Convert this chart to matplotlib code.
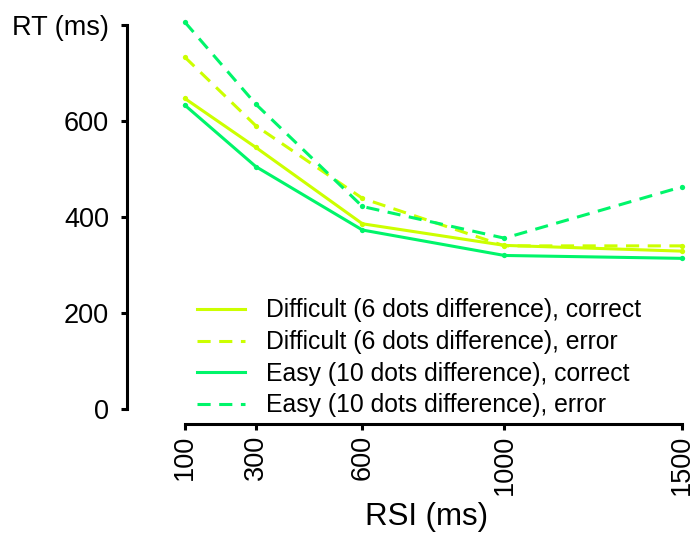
import matplotlib
matplotlib.use("Agg")
import matplotlib.pyplot as plt

plt.rcParams['font.family'] = ['Liberation Sans', 'DejaVu Sans']

rsi = [100, 300, 600, 1000, 1500]
difficult_correct = [647, 545, 386, 341, 329]
difficult_error = [733, 590, 439, 340, 340]
easy_correct = [633, 505, 373, 320, 314]
easy_error = [806, 635, 422, 356, 463]

yticks = [0, 200, 400, 600, 800]
ytick_labels = ['0', '200', '400', '600', 'RT (ms)']
xtick_labels = ['100', '300', '600', '1000', '1500']

labels = ['Difficult (6 dots difference), correct',
          'Difficult (6 dots difference), error',
          'Easy (10 dots difference), correct',
          'Easy (10 dots difference), error']

yellow = '#CCFF00'
green = '#00F56A'

fig = plt.figure(figsize=(6.94, 5.34), dpi=100)
ax = fig.add_axes([127/694, 1-424/534, (682-127)/694, (424-25)/534])

lw = 2.2
dash = (0, (4.3, 2.8))
series = [
    (difficult_correct, yellow, '-'),
    (difficult_error, yellow, dash),
    (easy_correct, green, '-'),
    (easy_error, green, dash),
]
for (vals, col, ls), lab in zip(series, labels):
    ax.plot(rsi, vals, color=col, linestyle=ls, linewidth=lw, marker='o',
            markersize=3.8, markeredgewidth=0, label=lab, clip_on=False)

ax.set_xlim(-63, 1500)
ax.set_ylim(-31, 800)
ax.set_xticks(rsi)
ax.set_xticklabels(xtick_labels, rotation=90, fontsize=19.5)
ax.set_yticks(yticks)
ax.set_yticklabels(ytick_labels, fontsize=19.5)

for s in ['top', 'right']:
    ax.spines[s].set_visible(False)
ax.spines['left'].set_bounds(0, 800)
ax.spines['bottom'].set_bounds(100, 1500)
for s in ['left', 'bottom']:
    ax.spines[s].set_linewidth(2.2)
ax.tick_params(axis='both', direction='out', length=4, width=2.2)
ax.tick_params(axis='y', pad=9)
ax.tick_params(axis='x', pad=4)

ax.set_xlabel('RSI (ms)', fontsize=22.5)
ax.xaxis.set_label_coords(0.54, -0.195)

leg = fig.legend(loc='center', bbox_to_anchor=(0.6035, 0.3296), frameon=False,
                 fontsize=17.8, handlelength=1.93, handletextpad=0.85,
                 labelspacing=0.31, borderpad=0)
for h in leg.get_lines():
    h.set_marker('')
    h.set_linewidth(2.2)

fig.savefig('out.png', dpi=100)
